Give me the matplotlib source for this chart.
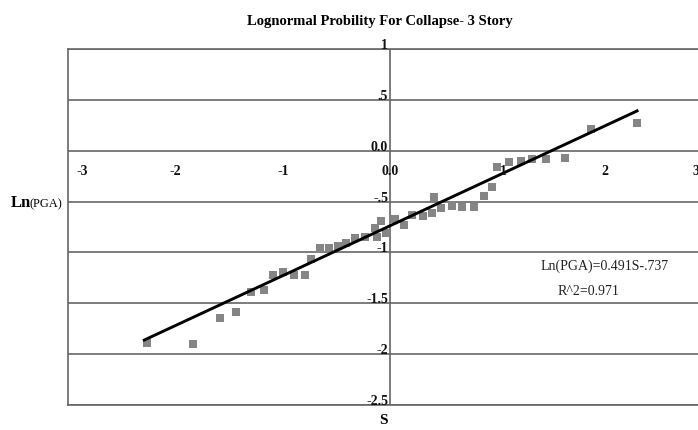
import matplotlib
matplotlib.use("Agg")
import matplotlib.pyplot as plt

# standard normal variate S vs ln(PGA) at collapse, 3-story frame
s_vals = [-2.260, -1.833, -1.581, -1.433, -1.293, -1.172, -1.088, -0.995, -0.893,
          -0.791, -0.735, -0.651, -0.567, -0.484, -0.409, -0.326, -0.233, -0.140,
          -0.121, -0.084, -0.037, 0.047, 0.130, 0.205, 0.307, 0.391, 0.409, 0.474,
          0.577, 0.670, 0.781, 0.874, 0.949, 0.995, 1.107, 1.219, 1.321, 1.451,
          1.628, 1.870, 2.298]
ln_pga = [-1.888, -1.898, -1.642, -1.583, -1.386, -1.367, -1.219, -1.190, -1.219,
          -1.219, -1.062, -0.954, -0.954, -0.934, -0.905, -0.855, -0.846, -0.757,
          -0.846, -0.688, -0.806, -0.669, -0.728, -0.629, -0.639, -0.610, -0.452,
          -0.560, -0.541, -0.551, -0.551, -0.442, -0.354, -0.157, -0.108, -0.098,
          -0.079, -0.079, -0.069, 0.216, 0.275]

slope = 0.491
intercept = -0.737
r_squared = 0.971

y_ticks = [1, 0.5, 0, -0.5, -1, -1.5, -2, -2.5]
y_tick_labels = ["1", ".5", "0.0", "-.5", "-1", "-1.5", "-2", "-2.5"]
x_ticks = [-3, -2, -1, 0, 1, 2, 3]
x_tick_labels = ["-3", "-2", "-1", "0.0", "1", "2", "3"]

plt.rcParams["font.family"] = ["Liberation Serif", "DejaVu Serif"]

W, H = 698, 430
fig = plt.figure(figsize=(W / 100, H / 100), dpi=100)
# plot area runs past the right edge of the figure
ax = fig.add_axes([68 / W, 1 - 405 / H, (712.5 - 68) / W, (405 - 49) / H])
ax.set_xlim(-3, 3)
ax.set_ylim(-2.5, 1)
ax.set_xticks([])
ax.set_yticks([])
for sp in ax.spines.values():
    sp.set_color("#666666")
    sp.set_linewidth(1.2)

grid_col = "#666666"
for y in y_ticks:
    ax.axhline(y, color=grid_col, lw=1.2, zorder=1)
ax.axvline(0, color=grid_col, lw=1.2, zorder=1)

# y labels sit just left of the centre axis, on top of each grid line
for y, lab in zip(y_ticks, y_tick_labels):
    ax.text(-0.02, y - 0.03, lab, ha="right", va="bottom", fontsize=10,
            fontweight="bold", color="#111111", zorder=4)

# x labels run along a row just under the zero line
x_shift = {-3: 10, 1: 4, 3: -12}
for x, lab in zip(x_ticks, x_tick_labels):
    ax.annotate(lab, (x, -0.2), xytext=(x_shift.get(x, 0), 0),
                textcoords="offset points", ha="center", va="center",
                fontsize=10, fontweight="bold", color="#111111", zorder=4)

ax.scatter(s_vals, ln_pga, marker="s", s=28, color="#858585", linewidths=0,
           zorder=3)

x0 = min(s_vals) - 0.03
x1 = max(s_vals)
ax.plot([x0, x1], [slope * x0 + intercept, slope * x1 + intercept],
        color="black", lw=2.1, zorder=3)

ax.text(1.395, -1.14, "Ln(PGA)=%.3fS-%s" % (slope, ("%.3f" % -intercept)[1:]),
        ha="left", va="center", fontsize=10, color="#222222")
ax.text(1.56, -1.38, "R^2=%.3f" % r_squared, ha="left", va="center",
        fontsize=10, color="#222222")

fig.text(380 / W, 1 - 22 / H, "Lognormal Probility For Collapse- 3 Story",
         ha="center", va="center", fontsize=10.5, fontweight="bold")
fig.text(11 / W, 1 - 203 / H, "Ln", ha="left", va="center", fontsize=12,
         fontweight="bold")
fig.text(29 / W, 1 - 204 / H, "(PGA)", ha="left", va="center", fontsize=9)
fig.text(383 / W, 1 - 420 / H, "S", ha="center", va="center", fontsize=11,
         fontweight="bold")

fig.savefig("out.png", dpi=100)
